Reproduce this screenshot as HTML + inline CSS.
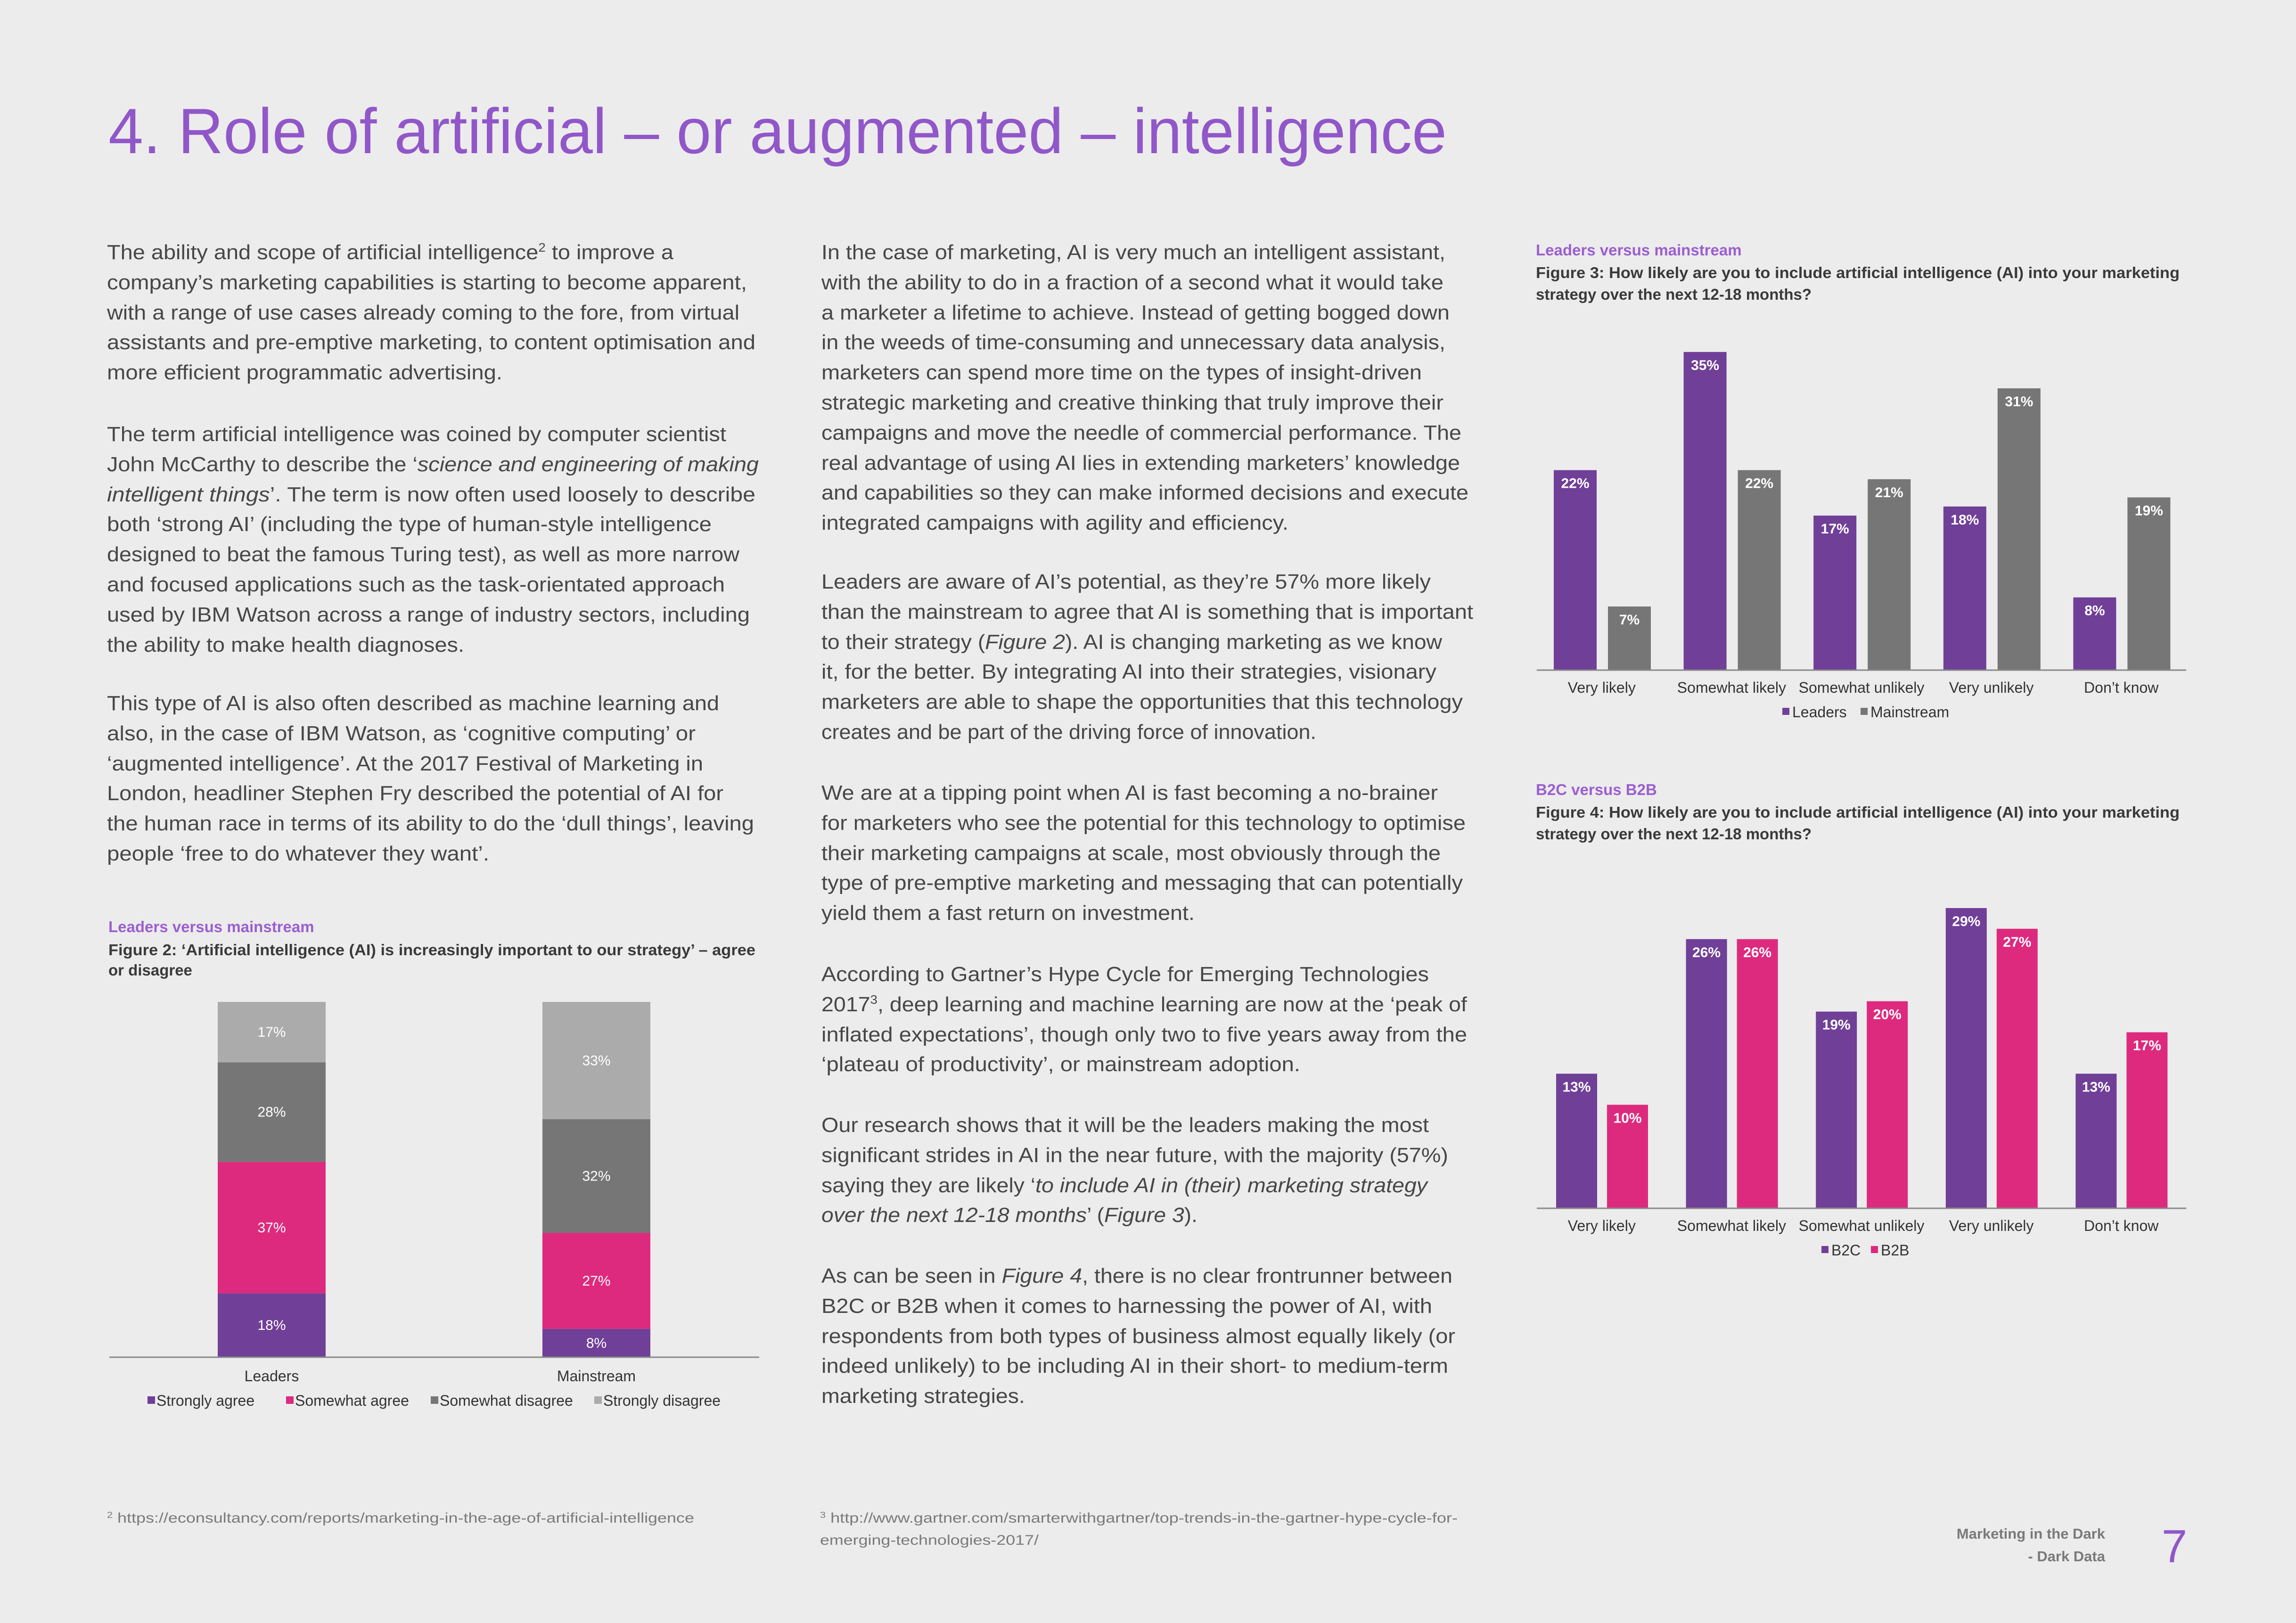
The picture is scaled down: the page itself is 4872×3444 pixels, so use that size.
<!DOCTYPE html>
<html><head><meta charset="utf-8"><style>
html,body{margin:0;padding:0;background:#ececec;}
svg{display:block;}
.b{font-family:"Liberation Sans",sans-serif;font-size:44px;fill:#474747;}
.ft{font-family:"Liberation Sans",sans-serif;font-size:30px;fill:#7a7a7a;}
.fs{font-family:"Liberation Sans",sans-serif;font-size:33px;font-weight:bold;fill:#9b5fd0;}
.fh{font-family:"Liberation Sans",sans-serif;font-size:33px;font-weight:bold;fill:#3a3a3a;}
.ax{font-family:"Liberation Sans",sans-serif;font-size:32px;fill:#333;}
.vl{font-family:"Liberation Sans",sans-serif;font-size:30px;fill:#fff;}
</style></head><body>
<svg id="page" width="4872" height="3444" viewBox="0 0 4872 3444" xmlns="http://www.w3.org/2000/svg">
<rect width="4872" height="3444" fill="#ececec"/>
<text x="230" y="325" font-family="Liberation Sans, sans-serif" font-size="136" fill="#9157c9" textLength="2840" lengthAdjust="spacingAndGlyphs">4. Role of artificial – or augmented – intelligence</text>

<g>
<text class="b" x="227" y="550" textLength="1202" lengthAdjust="spacingAndGlyphs">The ability and scope of artificial intelligence<tspan font-size="26" dy="-16">2</tspan><tspan dy="16"> to improve a</tspan></text>
<text class="b" x="227" y="614" textLength="1358" lengthAdjust="spacingAndGlyphs">company’s marketing capabilities is starting to become apparent,</text>
<text class="b" x="227" y="678" textLength="1342" lengthAdjust="spacingAndGlyphs">with a range of use cases already coming to the fore, from virtual</text>
<text class="b" x="227" y="741" textLength="1376" lengthAdjust="spacingAndGlyphs">assistants and pre-emptive marketing, to content optimisation and</text>
<text class="b" x="227" y="805" textLength="839" lengthAdjust="spacingAndGlyphs">more efficient programmatic advertising.</text>

<text class="b" x="227" y="936" textLength="1314" lengthAdjust="spacingAndGlyphs">The term artificial intelligence was coined by computer scientist</text>
<text class="b" x="227" y="1000" textLength="1383" lengthAdjust="spacingAndGlyphs">John McCarthy to describe the ‘<tspan font-style="italic">science and engineering of making</tspan></text>
<text class="b" x="227" y="1064" textLength="1376" lengthAdjust="spacingAndGlyphs"><tspan font-style="italic">intelligent things</tspan>’. The term is now often used loosely to describe</text>
<text class="b" x="227" y="1127" textLength="1283" lengthAdjust="spacingAndGlyphs">both ‘strong AI’ (including the type of human-style intelligence</text>
<text class="b" x="227" y="1191" textLength="1342" lengthAdjust="spacingAndGlyphs">designed to beat the famous Turing test), as well as more narrow</text>
<text class="b" x="227" y="1255" textLength="1311" lengthAdjust="spacingAndGlyphs">and focused applications such as the task-orientated approach</text>
<text class="b" x="227" y="1319" textLength="1364" lengthAdjust="spacingAndGlyphs">used by IBM Watson across a range of industry sectors, including</text>
<text class="b" x="227" y="1383" textLength="758" lengthAdjust="spacingAndGlyphs">the ability to make health diagnoses.</text>

<text class="b" x="227" y="1507" textLength="1299" lengthAdjust="spacingAndGlyphs">This type of AI is also often described as machine learning and</text>
<text class="b" x="227" y="1571" textLength="1249" lengthAdjust="spacingAndGlyphs">also, in the case of IBM Watson, as ‘cognitive computing’ or</text>
<text class="b" x="227" y="1635" textLength="1265" lengthAdjust="spacingAndGlyphs">‘augmented intelligence’. At the 2017 Festival of Marketing in</text>
<text class="b" x="227" y="1698" textLength="1308" lengthAdjust="spacingAndGlyphs">London, headliner Stephen Fry described the potential of AI for</text>
<text class="b" x="227" y="1762" textLength="1373" lengthAdjust="spacingAndGlyphs">the human race in terms of its ability to do the ‘dull things’, leaving</text>
<text class="b" x="227" y="1826" textLength="811" lengthAdjust="spacingAndGlyphs">people ‘free to do whatever they want’.</text>
</g>

<g>
<text class="b" x="1743" y="550" textLength="1324" lengthAdjust="spacingAndGlyphs">In the case of marketing, AI is very much an intelligent assistant,</text>
<text class="b" x="1743" y="614" textLength="1320" lengthAdjust="spacingAndGlyphs">with the ability to do in a fraction of a second what it would take</text>
<text class="b" x="1743" y="678" textLength="1333" lengthAdjust="spacingAndGlyphs">a marketer a lifetime to achieve. Instead of getting bogged down</text>
<text class="b" x="1743" y="741" textLength="1324" lengthAdjust="spacingAndGlyphs">in the weeds of time-consuming and unnecessary data analysis,</text>
<text class="b" x="1743" y="805" textLength="1274" lengthAdjust="spacingAndGlyphs">marketers can spend more time on the types of insight-driven</text>
<text class="b" x="1743" y="869" textLength="1320" lengthAdjust="spacingAndGlyphs">strategic marketing and creative thinking that truly improve their</text>
<text class="b" x="1743" y="933" textLength="1358" lengthAdjust="spacingAndGlyphs">campaigns and move the needle of commercial performance. The</text>
<text class="b" x="1743" y="997" textLength="1355" lengthAdjust="spacingAndGlyphs">real advantage of using AI lies in extending marketers’ knowledge</text>
<text class="b" x="1743" y="1060" textLength="1373" lengthAdjust="spacingAndGlyphs">and capabilities so they can make informed decisions and execute</text>
<text class="b" x="1743" y="1124" textLength="991" lengthAdjust="spacingAndGlyphs">integrated campaigns with agility and efficiency.</text>

<text class="b" x="1743" y="1249" textLength="1293" lengthAdjust="spacingAndGlyphs">Leaders are aware of AI’s potential, as they’re 57% more likely</text>
<text class="b" x="1743" y="1313" textLength="1383" lengthAdjust="spacingAndGlyphs">than the mainstream to agree that AI is something that is important</text>
<text class="b" x="1743" y="1377" textLength="1317" lengthAdjust="spacingAndGlyphs">to their strategy (<tspan font-style="italic">Figure 2</tspan>). AI is changing marketing as we know</text>
<text class="b" x="1743" y="1440" textLength="1305" lengthAdjust="spacingAndGlyphs">it, for the better. By integrating AI into their strategies, visionary</text>
<text class="b" x="1743" y="1504" textLength="1361" lengthAdjust="spacingAndGlyphs">marketers are able to shape the opportunities that this technology</text>
<text class="b" x="1743" y="1568" textLength="1050" lengthAdjust="spacingAndGlyphs">creates and be part of the driving force of innovation.</text>

<text class="b" x="1743" y="1697" textLength="1308" lengthAdjust="spacingAndGlyphs">We are at a tipping point when AI is fast becoming a no-brainer</text>
<text class="b" x="1743" y="1761" textLength="1367" lengthAdjust="spacingAndGlyphs">for marketers who see the potential for this technology to optimise</text>
<text class="b" x="1743" y="1825" textLength="1314" lengthAdjust="spacingAndGlyphs">their marketing campaigns at scale, most obviously through the</text>
<text class="b" x="1743" y="1888" textLength="1361" lengthAdjust="spacingAndGlyphs">type of pre-emptive marketing and messaging that can potentially</text>
<text class="b" x="1743" y="1952" textLength="792" lengthAdjust="spacingAndGlyphs">yield them a fast return on investment.</text>

<text class="b" x="1743" y="2082" textLength="1289" lengthAdjust="spacingAndGlyphs">According to Gartner’s Hype Cycle for Emerging Technologies</text>
<text class="b" x="1743" y="2146" textLength="1370" lengthAdjust="spacingAndGlyphs">2017<tspan font-size="26" dy="-16">3</tspan><tspan dy="16">, deep learning and machine learning are now at the ‘peak of</tspan></text>
<text class="b" x="1743" y="2210" textLength="1370" lengthAdjust="spacingAndGlyphs">inflated expectations’, though only two to five years away from the</text>
<text class="b" x="1743" y="2273" textLength="1016" lengthAdjust="spacingAndGlyphs">‘plateau of productivity’, or mainstream adoption.</text>

<text class="b" x="1743" y="2402" textLength="1289" lengthAdjust="spacingAndGlyphs">Our research shows that it will be the leaders making the most</text>
<text class="b" x="1743" y="2466" textLength="1330" lengthAdjust="spacingAndGlyphs">significant strides in AI in the near future, with the majority (57%)</text>
<text class="b" x="1743" y="2530" textLength="1286" lengthAdjust="spacingAndGlyphs">saying they are likely ‘<tspan font-style="italic">to include AI in (their) marketing strategy</tspan></text>
<text class="b" x="1743" y="2593" textLength="798" lengthAdjust="spacingAndGlyphs"><tspan font-style="italic">over the next 12-18 months</tspan>’ (<tspan font-style="italic">Figure 3</tspan>).</text>

<text class="b" x="1743" y="2722" textLength="1339" lengthAdjust="spacingAndGlyphs">As can be seen in <tspan font-style="italic">Figure 4</tspan>, there is no clear frontrunner between</text>
<text class="b" x="1743" y="2786" textLength="1296" lengthAdjust="spacingAndGlyphs">B2C or B2B when it comes to harnessing the power of AI, with</text>
<text class="b" x="1743" y="2850" textLength="1345" lengthAdjust="spacingAndGlyphs">respondents from both types of business almost equally likely (or</text>
<text class="b" x="1743" y="2913" textLength="1330" lengthAdjust="spacingAndGlyphs">indeed unlikely) to be including AI in their short- to medium-term</text>
<text class="b" x="1743" y="2977" textLength="432" lengthAdjust="spacingAndGlyphs">marketing strategies.</text>
</g>

<g>
<text class="ft" x="227" y="3231" textLength="1246" lengthAdjust="spacingAndGlyphs"><tspan font-size="18" dy="-10">2</tspan><tspan dy="10"> https://econsultancy.com/reports/marketing-in-the-age-of-artificial-intelligence</tspan></text>
<text class="ft" x="1740" y="3231" textLength="1353" lengthAdjust="spacingAndGlyphs"><tspan font-size="18" dy="-10">3</tspan><tspan dy="10"> http://www.gartner.com/smarterwithgartner/top-trends-in-the-gartner-hype-cycle-for-</tspan></text>
<text class="ft" x="1740" y="3278" textLength="464" lengthAdjust="spacingAndGlyphs">emerging-technologies-2017/</text>
</g>
<g>
<text x="4467" y="3265" text-anchor="end" font-family="Liberation Sans, sans-serif" font-size="31" font-weight="bold" fill="#7a7a7a">Marketing in the Dark</text>
<text x="4467" y="3313" text-anchor="end" font-family="Liberation Sans, sans-serif" font-size="31" font-weight="bold" fill="#7a7a7a">- Dark Data</text>
<text x="4614" y="3315" text-anchor="middle" font-family="Liberation Sans, sans-serif" font-size="98" fill="#9157c9">7</text>
</g>

<g>
<text class="fs" x="230" y="1978">Leaders versus mainstream</text>
<text class="fh" x="230" y="2027" textLength="1373" lengthAdjust="spacingAndGlyphs">Figure 2: ‘Artificial intelligence (AI) is increasingly important to our strategy’ – agree</text>
<text class="fh" x="230" y="2070">or disagree</text>
<g id="fig2"></g>
</g>
<g>
<text class="fs" x="3259" y="542">Leaders versus mainstream</text>
<text class="fh" x="3259" y="590" textLength="1366" lengthAdjust="spacingAndGlyphs">Figure 3: How likely are you to include artificial intelligence (AI) into your marketing</text>
<text class="fh" x="3259" y="636">strategy over the next 12-18 months?</text>
<g id="fig3"></g>
</g>
<g>
<text class="fs" x="3259" y="1687">B2C versus B2B</text>
<text class="fh" x="3259" y="1735" textLength="1366" lengthAdjust="spacingAndGlyphs">Figure 4: How likely are you to include artificial intelligence (AI) into your marketing</text>
<text class="fh" x="3259" y="1781">strategy over the next 12-18 months?</text>
<g id="fig4"></g>
</g>
</svg>
<script>
const NS = "http://www.w3.org/2000/svg";
// Figure 2 data (stacked, bottom to top)
const fig2Categories = ["Leaders", "Mainstream"];
const fig2Series = ["Strongly agree", "Somewhat agree", "Somewhat disagree", "Strongly disagree"];
const fig2StronglyAgree = [18, 8];
const fig2SomewhatAgree = [37, 27];
const fig2SomewhatDisagree = [28, 32];
const fig2StronglyDisagree = [17, 33];
// Figure 3 data
const fig3Categories = ["Very likely", "Somewhat likely", "Somewhat unlikely", "Very unlikely", "Don’t know"];
const fig3Leaders = [22, 35, 17, 18, 8];
const fig3Mainstream = [7, 22, 21, 31, 19];
const fig3Legend = ["Leaders", "Mainstream"];
// Figure 4 data
const fig4Categories = ["Very likely", "Somewhat likely", "Somewhat unlikely", "Very unlikely", "Don’t know"];
const fig4B2C = [13, 26, 19, 29, 13];
const fig4B2B = [10, 26, 20, 27, 17];
const fig4Legend = ["B2C", "B2B"];

const PURPLE = "#703f97", PINK = "#dd2a7e", DARK = "#767676", LIGHT = "#ababab";

function mk(tag, attrs, parent) {
  const e = document.createElementNS(NS, tag);
  for (const k in attrs) e.setAttribute(k, attrs[k]);
  parent.appendChild(e);
  return e;
}

// ---------- Figure 2 ----------
(function () {
  const g = document.getElementById("fig2");
  const base = 2880, pxPer = 7.54;
  const yScale = v => base - v * pxPer;
  const barX = [462, 1151], barW = 229;
  const stacks = [fig2StronglyAgree, fig2SomewhatAgree, fig2SomewhatDisagree, fig2StronglyDisagree];
  const cols = [PURPLE, PINK, DARK, LIGHT];
  fig2Categories.forEach((cat, i) => {
    let cum = 0;
    stacks.forEach((arr, s) => {
      const v = arr[i];
      const y0 = yScale(cum), y1 = yScale(cum + v);
      const r = mk("rect", { x: barX[i], y: y1, width: barW, height: y0 - y1, fill: cols[s] }, g);
      
      
      const t = mk("text", { x: barX[i] + barW / 2, y: (y0 + y1) / 2 + 10, "text-anchor": "middle", class: "vl" }, g);
      
      
      t.textContent = v + "%";
      cum += v;
    });
    const l = mk("text", { x: barX[i] + barW / 2, y: 2931, "text-anchor": "middle", class: "ax" }, g);
    
    
    l.textContent = cat;
  });
  const ax = mk("line", { x1: 232, x2: 1611, y1: base, y2: base, stroke: "#888", "stroke-width": 3 }, g);
  
  
  const legX = [332, 626, 933, 1280];
  fig2Series.forEach((s, k) => {
    const sq = mk("rect", { x: legX[k] - 19, y: 2963, width: 16, height: 16, fill: cols[k] }, g);
    
    
    const t = mk("text", { x: legX[k], y: 2983, class: "ax", "font-size": 30 }, g);
    
    
    t.textContent = s;
  });
})();

// ---------- grouped bar helper ----------
function grouped(gid, cats, a, b, colA, colB, base, pxPer, offA, offB, bw, legend, legX) {
  const g = document.getElementById(gid);
  const x0 = 3261, pitch = 275.6;
  const yScale = v => base - v * pxPer;
  cats.forEach((c, i) => {
    const gs = x0 + i * pitch;
    [[a, colA, offA], [b, colB, offB]].forEach(([arr, col, off]) => {
      const y = yScale(arr[i]);
      const r = mk("rect", { x: gs + off, y: y, width: bw, height: base - y, fill: col }, g);
      
      
      const t = mk("text", { x: gs + off + bw / 2, y: y + 38, "text-anchor": "middle", class: "vl", "font-weight": "bold" }, g);
      
      
      t.textContent = arr[i] + "%";
    });
    const l = mk("text", { x: gs + pitch / 2, y: base + 48, "text-anchor": "middle", class: "ax", "font-size": 31 }, g);
    
    
    l.textContent = c;
  });
  const ax = mk("line", { x1: 3261, x2: 4639, y1: base, y2: base, stroke: "#888", "stroke-width": 3 }, g);
  
  
  [colA, colB].forEach((col, k) => {
    const sq = mk("rect", { x: legX[k] - 21, y: base + 80, width: 15, height: 15, fill: col }, g);
    
    
    const t = mk("text", { x: legX[k], y: base + 100, class: "ax", "font-size": 30 }, g);
    
    
    t.textContent = legend[k];
  });
}
grouped("fig3", fig3Categories, fig3Leaders, fig3Mainstream, PURPLE, DARK, 1422, 19.29, 36, 151, 91, fig3Legend, [3803, 3969]);
grouped("fig4", fig4Categories, fig4B2C, fig4B2B, PURPLE, PINK, 2564, 21.97, 41, 149, 87, fig4Legend, [3886, 3991]);
</script>
</body></html>
